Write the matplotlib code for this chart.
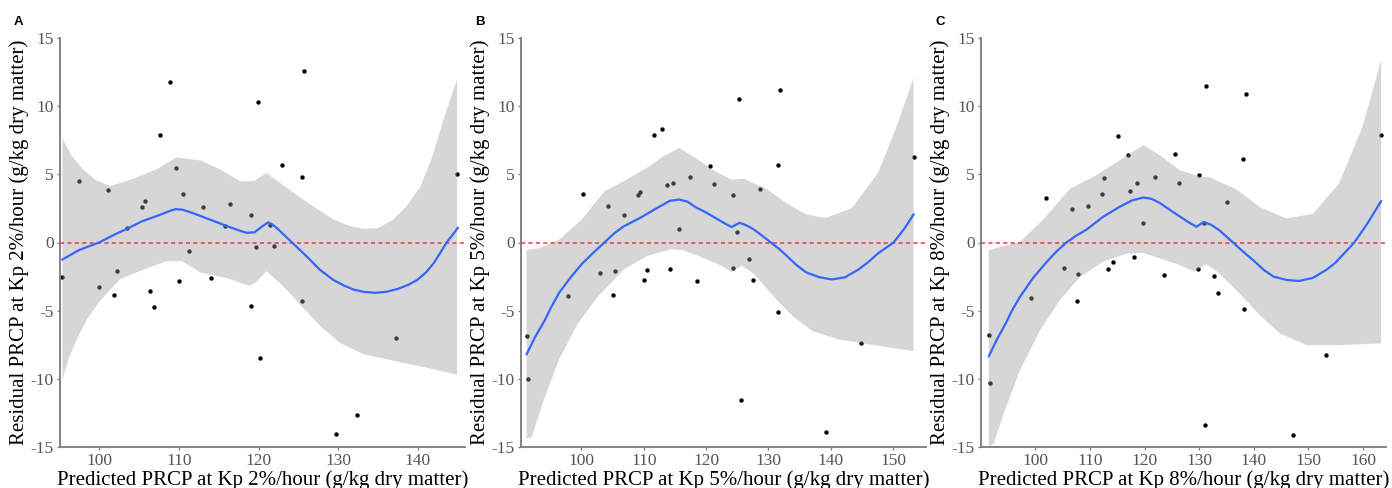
import matplotlib
matplotlib.use("Agg")
import matplotlib.pyplot as plt
import numpy as np

# ---- panel A (Kp 2%/hour) ----
pred_a = [95.4, 97.5, 100.0, 101.1, 101.9, 102.2, 103.5, 105.4, 105.8, 106.4, 106.9, 107.7,
          108.9, 109.6, 110.0, 110.5, 111.3, 113.0, 114.0, 115.8, 116.4, 119.0, 119.0, 119.7,
          119.9, 120.2, 121.4, 121.9, 123.0, 125.4, 125.5, 125.7, 129.7, 132.3, 137.3, 144.9]
resid_a = [-2.54, 4.5, -3.25, 3.87, -3.84, -2.1, 1.03, 2.6, 3.08, -3.55, -4.74, 7.9,
           11.76, 5.43, -2.84, 3.57, -0.64, 2.6, -2.61, 1.22, 2.83, 2.0, -4.67, -0.32,
           10.3, -8.49, 1.3, -0.27, 5.65, 4.84, -4.26, 12.6, -14.06, -12.67, -6.97, 5.06]
fit_x_a = [95.4, 97.5, 100.0, 102.0, 103.5, 105.4, 107.5, 108.8, 109.6, 110.5, 111.8, 113.0,
           114.5, 115.8, 117.5, 118.5, 119.5, 120.5, 121.2, 121.8, 122.5, 123.4, 124.2, 126.0,
           127.7, 129.4, 130.7, 131.9, 133.2, 134.6, 136.0, 137.5, 138.8, 139.9, 141.0, 142.0,
           143.6, 145.0]
fit_a = [-1.25, -0.55, 0.0, 0.6, 1.0, 1.56, 2.0, 2.3, 2.45, 2.4, 2.15, 1.88,
         1.55, 1.25, 0.9, 0.71, 0.75, 1.2, 1.48, 1.3, 0.95, 0.45, 0.0, -1.0,
         -2.0, -2.75, -3.15, -3.45, -3.62, -3.69, -3.62, -3.4, -3.1, -2.75, -2.2, -1.5,
         0.0, 1.07]
up_x_a = [95.4, 96.5, 98.0, 99.5, 101.4, 104.3, 107.2, 109.7, 112.7, 115.2, 117.7, 119.4,
          121.0, 123.1, 125.6, 127.5, 129.4, 131.5, 133.2, 135.0, 136.9, 138.5, 140.3,
          141.8, 143.2, 144.9]
up_a = [7.68, 6.4, 5.36, 4.6, 4.13, 4.68, 5.36, 6.24, 6.02, 5.36, 4.5, 4.5,
        5.1, 4.2, 3.15, 2.4, 1.69, 1.2, 1.0, 1.05, 1.69, 2.6, 4.1,
        6.3, 9.0, 11.96]
lo_x_a = [95.4, 96.2, 97.2, 98.5, 100.1, 102.6, 105.6, 108.5, 110.4, 112.7, 116.0, 118.9,
          119.7, 121.0, 123.1, 125.2, 127.7, 130.2, 133.2, 137.8, 142.0, 144.9]
lo_a = [-10.05, -8.5, -7.1, -5.6, -4.3, -2.7, -1.98, -1.37, -1.37, -2.2, -2.6, -3.2,
        -2.9, -2.1, -3.2, -4.55, -6.1, -7.36, -8.2, -8.78, -9.3, -9.7]

# ---- panel B (Kp 5%/hour) ----
pred_b = [91.2, 91.5, 97.9, 100.2, 103.0, 104.3, 105.1, 105.4, 106.9, 109.1, 109.4, 110.1,
          110.6, 111.6, 112.9, 113.7, 114.2, 114.7, 115.7, 117.5, 118.6, 120.6, 121.3,
          124.3, 124.3, 125.0, 125.3, 125.6, 126.9, 127.5, 128.7, 131.5, 131.6, 131.8,
          139.2, 144.8, 153.3]
resid_b = [-6.87, -10.0, -3.89, 3.57, -2.25, 2.71, -3.82, -2.08, 2.05, 3.52, 3.69, -2.74,
           -2.01, 7.88, 8.34, 4.24, -1.91, 4.39, 1.01, 4.84, -2.79, 5.6, 4.28,
           3.52, -1.88, 0.76, 10.56, -11.52, -1.22, -2.77, 3.89, 5.72, -5.11, 11.2,
           -13.89, -7.39, 6.28]
fit_x_b = [91.2, 92.6, 94.0, 95.2, 96.4, 98.2, 100.0, 101.9, 103.7, 105.2, 106.8, 109.4,
           112.1, 114.2, 115.7, 117.0, 118.3, 120.0, 121.5, 123.0, 124.1, 125.4, 126.5,
           127.7, 129.0, 130.4, 131.8, 133.0, 134.5, 136.1, 138.2, 140.2, 142.3, 144.4,
           146.0, 147.6, 150.1, 151.8, 153.3]
fit_b = [-8.2, -6.9, -5.8, -4.7, -3.7, -2.6, -1.6, -0.75, 0.0, 0.65, 1.19, 1.8,
         2.52, 3.06, 3.15, 3.0, 2.6, 2.2, 1.8, 1.4, 1.13, 1.45, 1.25,
         0.95, 0.5, 0.0, -0.5, -1.0, -1.65, -2.2, -2.55, -2.71, -2.55, -2.0,
         -1.45, -0.8, 0.0, 1.0, 2.05]
up_x_b = [91.2, 93.3, 96.4, 100.0, 103.7, 106.8, 110.5, 113.1, 115.7, 118.3, 121.5, 124.1,
          126.1, 129.8, 132.9, 136.1, 139.2, 143.4, 147.6, 150.6, 153.3]
up_b = [-0.55, -0.4, 0.2, 1.67, 3.76, 4.5, 5.48, 6.3, 6.94, 6.2, 5.2, 4.62,
        4.67, 3.9, 2.9, 2.05, 1.8, 2.52, 5.1, 8.53, 12.07]
lo_x_b = [91.2, 92.0, 93.8, 96.4, 99.5, 102.7, 106.8, 110.5, 114.2, 116.2, 119.4, 122.5,
          124.1, 125.7, 127.7, 130.8, 133.9, 137.1, 141.2, 146.5, 153.3]
lo_b = [-14.4, -14.3, -11.76, -8.58, -5.89, -3.93, -1.98, -1.0, -0.51, -0.55, -1.1, -1.71,
        -2.17, -1.7, -2.3, -3.93, -5.4, -6.5, -7.1, -7.5, -7.97]

# ---- panel C (Kp 8%/hour) ----
pred_c = [91.5, 91.8, 99.2, 101.9, 105.2, 106.7, 107.6, 107.9, 109.6, 112.2, 112.6, 113.4,
          114.2, 115.1, 116.9, 117.4, 118.1, 118.7, 119.8, 121.9, 123.5, 125.6, 126.4,
          129.8, 129.9, 130.9, 131.1, 131.2, 132.8, 133.5, 135.1, 138.0, 138.2, 138.5,
          147.2, 153.3, 163.3]
resid_c = [-6.82, -10.32, -4.09, 3.27, -1.86, 2.47, -4.26, -2.3, 2.69, 3.54, 4.71, -1.94,
           -1.4, 7.79, 6.42, 3.78, -1.08, 4.35, 1.44, 4.84, -2.4, 6.48, 4.33,
           -1.91, 4.94, 1.44, -13.35, 11.45, -2.45, -3.72, 2.98, 6.13, -4.87, 10.9,
           -14.09, -8.22, 7.87]
fit_x_c = [91.5, 93.0, 94.5, 95.8, 97.2, 99.6, 102.1, 103.9, 105.7, 107.5, 109.4, 112.4,
           115.5, 117.8, 119.8, 121.3, 122.8, 124.6, 126.5, 128.0, 129.5, 130.8, 132.2,
           133.7, 136.2, 138.0, 139.9, 141.8, 143.6, 146.0, 148.3, 150.8, 153.3, 154.9,
           156.3, 158.4, 160.8, 163.3]
fit_c = [-8.34, -7.1, -6.0, -4.95, -3.99, -2.6, -1.42, -0.65, 0.0, 0.5, 0.95, 1.88,
         2.63, 3.1, 3.3, 3.2, 2.9, 2.4, 1.9, 1.5, 1.15, 1.5, 1.3,
         0.9, 0.0, -0.65, -1.3, -2.0, -2.5, -2.75, -2.82, -2.6, -2.0, -1.5,
         -0.9, 0.0, 1.4, 3.03]
up_x_c = [91.5, 94.8, 97.2, 101.5, 106.4, 110.6, 115.5, 119.8, 122.8, 126.5, 130.1, 131.9,
          136.8, 141.1, 146.0, 150.8, 155.6, 159.9, 163.3]
up_c = [-0.56, -0.2, 0.05, 1.7, 3.96, 4.8, 6.04, 7.14, 6.4, 5.3, 4.84, 4.78,
        3.9, 2.6, 1.76, 2.1, 4.33, 8.48, 13.37]
lo_x_c = [91.5, 92.4, 94.0, 97.2, 100.9, 104.5, 108.2, 112.4, 116.7, 119.8, 122.8, 126.5,
          129.2, 131.3, 133.7, 137.4, 141.1, 144.8, 149.7, 155.6, 163.3]
lo_c = [-15.0, -14.75, -12.8, -9.37, -6.43, -4.23, -2.52, -1.42, -0.81, -0.76, -1.17, -1.66,
        -2.15, -1.57, -2.27, -3.74, -5.33, -6.68, -7.53, -7.53, -7.4]

rates = ["2%", "5%", "8%"]
letters = ["A", "B", "C"]
xlims = [(95.1, 145.9), (90.3, 155.3), (90.07, 164.2)]
xticks = [[100, 110, 120, 130, 140], [100, 110, 120, 130, 140, 150],
          [100, 110, 120, 130, 140, 150, 160]]
yticks = [-15, -10, -5, 0, 5, 10, 15]

plt.rcParams["font.family"] = ["Liberation Serif", "DejaVu Serif"]
plt.rcParams["axes.unicode_minus"] = False

fig = plt.figure(figsize=(13.92, 4.88), dpi=100)
lefts = [60 / 1392, 521 / 1392, 981 / 1392]


def draw_panel(ax, pred, resid, fx, fy, ux, uy, lx, ly, i):
    ax.scatter(pred, resid, s=10, color="black", zorder=2, linewidths=0)
    band_x = np.concatenate([ux, lx[::-1]])
    band_y = np.concatenate([uy, ly[::-1]])
    ax.fill(band_x, band_y, color="#999999", alpha=0.4, linewidth=0, zorder=3)
    ax.axhline(0, color="#F03A3A", linestyle=(0, (2.3, 1.8)), linewidth=1.3, alpha=0.85,
               zorder=4)
    ax.plot(fx, fy, color="#3366FF", linewidth=1.6, zorder=5)

    ax.set_xlim(*xlims[i])
    ax.set_ylim(-15, 15)
    ax.set_xticks(xticks[i])
    ax.set_yticks(yticks)
    for side in ["top", "right"]:
        ax.spines[side].set_visible(False)
    for side in ["left", "bottom"]:
        ax.spines[side].set_color("#7a7a7a")
        ax.spines[side].set_linewidth(1.3)
    ax.tick_params(colors="#7a7a7a", labelcolor="#555555", labelsize=12.5, length=2.5,
                   width=0.9, pad=2)
    ax.set_xlabel("Predicted PRCP at Kp " + rates[i] + "/hour (g/kg dry matter)",
                  fontsize=15, labelpad=1)
    ax.set_ylabel("Residual PRCP at Kp " + rates[i] + "/hour (g/kg dry matter)",
                  fontsize=15, labelpad=1)


panels = [
    (pred_a, resid_a, fit_x_a, fit_a, up_x_a, up_a, lo_x_a, lo_a),
    (pred_b, resid_b, fit_x_b, fit_b, up_x_b, up_b, lo_x_b, lo_b),
    (pred_c, resid_c, fit_x_c, fit_c, up_x_c, up_c, lo_x_c, lo_c),
]

for i, p in enumerate(panels):
    ax = fig.add_axes([lefts[i], 41 / 488, 405 / 1392, 409 / 488])
    pred, resid, fx, fy, ux, uy, lx, ly = p
    draw_panel(ax, pred, resid, np.array(fx), np.array(fy), np.array(ux), np.array(uy),
               np.array(lx), np.array(ly), i)
    fig.text((lefts[i] * 1392 - 46) / 1392, 1 - 22 / 488, letters[i], fontsize=9.5,
             fontweight="bold", family="Liberation Sans", va="center", ha="left")

fig.savefig("out.png", dpi=100)
